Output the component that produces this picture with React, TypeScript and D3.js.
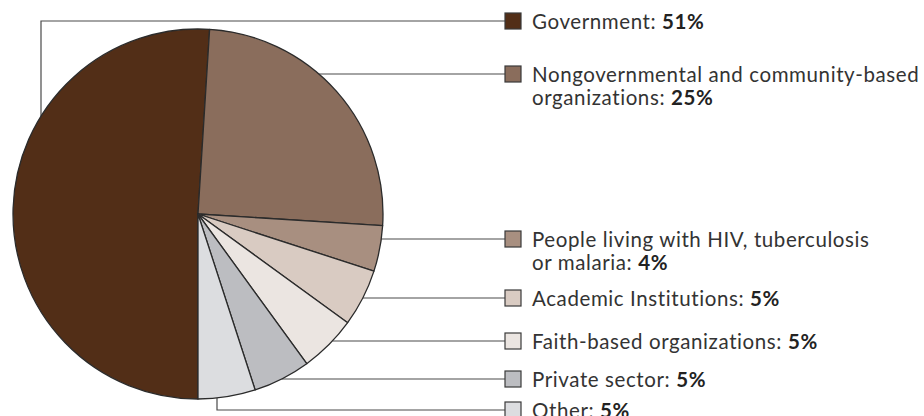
import React, { useEffect } from "react";
import * as d3 from "d3";

const categories = [
  "Government",
  "Nongovernmental and community-based organizations",
  "People living with HIV, tuberculosis or malaria",
  "Academic Institutions",
  "Faith-based organizations",
  "Private sector",
  "Other",
];
const values = [51, 25, 4, 5, 5, 5, 5];
const labelLines = [
  ["Government: "],
  ["Nongovernmental and community-based", "organizations: "],
  ["People living with HIV, tuberculosis", "or malaria: "],
  ["Academic Institutions: "],
  ["Faith-based organizations: "],
  ["Private sector: "],
  ["Other: "],
];
const colors = ["#522e17", "#8a6d5c", "#a88f80", "#d9cbc2", "#ebe5e1", "#bcbdc1", "#dcdde0"];

// layout
const W = 924, H = 416;
const cx = 198, cy = 214, R = 185;
const legendY = [21, 74, 239, 298, 341, 379, 410];
const markerX = 505, markerS = 16, textX = 532;
const govX = 41, otherX = 217;
const lineH = 23;

export default function App() {
  useEffect(() => {
    document.body.style.margin = "0";
  }, []);
  const pie = d3.pie<number>().sort(null).value((d) => d).startAngle(Math.PI).endAngle(3 * Math.PI);
  const arcs = pie(values);
  const arc = d3.arc<d3.PieArcDatum<number>>().innerRadius(0).outerRadius(R);

  const leaders = legendY.map((y, i) => {
    if (i === 0) {
      const dx = govX - cx;
      const ey = cy - Math.sqrt(R * R - dx * dx);
      return `M${markerX},${y}H${govX}V${ey}`;
    }
    if (i === categories.length - 1) {
      const dx = otherX - cx;
      const ey = cy + Math.sqrt(R * R - dx * dx);
      return `M${markerX},${y}H${otherX}V${ey}`;
    }
    const dy = y - cy;
    const ex = cx + Math.sqrt(R * R - dy * dy);
    return `M${ex},${y}H${markerX}`;
  });

  return (
    <svg width={W} height={H} style={{ position: "absolute", left: 0, top: 0, display: "block" }}
      fontFamily="Lato, 'Noto Sans', sans-serif">
      <g>
        {leaders.map((d, i) => (
          <path key={i} d={d} fill="none" stroke="#4a4a4a" strokeWidth={1.2} />
        ))}
      </g>
      <g transform={`translate(${cx},${cy})`}>
        {arcs.map((a, i) => (
          <path key={i} d={arc(a) || ""} fill={colors[i]} stroke="#2b2b2b" strokeWidth={1.3} strokeLinejoin="round" />
        ))}
      </g>
      <g>
        {categories.map((c, i) => {
          const y = legendY[i];
          const lines = labelLines[i];
          return (
            <g key={c}>
              <rect x={markerX} y={y - markerS / 2} width={markerS} height={markerS}
                fill={colors[i]} stroke="#3a3a3a" strokeWidth={1.2} />
              {lines.map((t, j) => (
                <text key={j} x={textX} y={y + 7.5 + j * lineH} fontSize={20.5} fill="#333"
                  letterSpacing={0.6}>
                  {t}
                  {j === lines.length - 1 && (
                    <tspan fontWeight="bold" fill="#222">{values[i]}%</tspan>
                  )}
                </text>
              ))}
            </g>
          );
        })}
      </g>
    </svg>
  );
}
